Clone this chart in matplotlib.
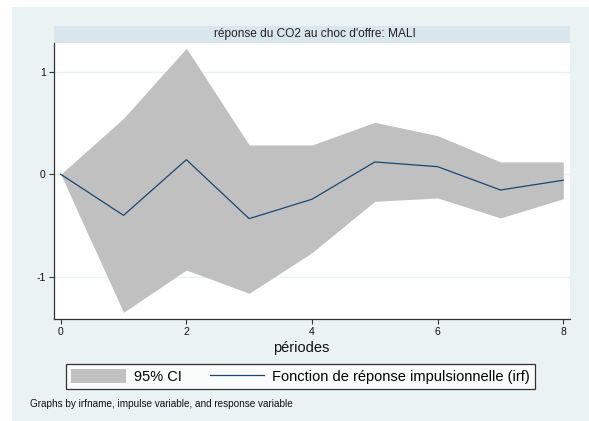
import matplotlib
matplotlib.use("Agg")
import matplotlib.pyplot as plt
from matplotlib.patches import Rectangle, Patch
from matplotlib.lines import Line2D

plt.rcParams['font.family'] = ['Liberation Sans', 'DejaVu Sans']
plt.rcParams['axes.unicode_minus'] = False

periods = [0, 1, 2, 3, 4, 5, 6, 7, 8]
irf = [0.0, -0.40, 0.142, -0.432, -0.243, 0.12, 0.074, -0.153, -0.058]
ci_upper = [0.0, 0.545, 1.227, 0.285, 0.285, 0.506, 0.376, 0.12, 0.12]
ci_lower = [0.0, -1.344, -0.932, -1.159, -0.763, -0.263, -0.231, -0.425, -0.238]
xticks = [0, 2, 4, 6, 8]
yticks = [-1, 0, 1]
title = "réponse du CO2 au choc d'offre: MALI"
xlabel = "périodes"
note = "Graphs by irfname, impulse variable, and response variable"

W, H = 589, 421
fig = plt.figure(figsize=(W / 100, H / 100), dpi=100, facecolor='white')

def fx(px):
    return px / W

def fy(py):
    return 1 - py / H

# graph region background
fig.patches.append(Rectangle((fx(12), 0), 1 - fx(12), fy(7), transform=fig.transFigure,
                             facecolor='#EAF2F3', edgecolor='none', zorder=-2))
# title band
fig.patches.append(Rectangle((fx(54), fy(43)), fx(570) - fx(54), fy(26) - fy(43),
                             transform=fig.transFigure, facecolor='#D9E6EB',
                             edgecolor='none', zorder=-1))
fig.text(fx(314.5), fy(34.5), title, ha='center', va='center', fontsize=8.6, color='#222222')

ax = fig.add_axes([fx(54), fy(319), fx(570) - fx(54), fy(43) - fy(319)])
ax.set_zorder(1)
ax.set_facecolor('white')
ax.fill_between(periods, ci_lower, ci_upper, color='#C0C0C0', linewidth=0, zorder=2)
ax.plot(periods, irf, color='#1A476F', linewidth=0.9, zorder=3)
for yv in yticks:
    ax.axhline(yv, color='#EAF2F3', linewidth=1.0, zorder=1)

ax.set_xlim(-0.107, 8.107)
ax.set_ylim(-1.409, 1.278)
ax.set_xticks(xticks)
ax.set_yticks(yticks)
ax.tick_params(axis='both', direction='out', length=3.5, width=0.8, color='#333333',
               labelsize=7.5, labelcolor='#111111', pad=2.5)
for s in ['top', 'right']:
    ax.spines[s].set_visible(False)
for s in ['left', 'bottom']:
    ax.spines[s].set_color('#333333')
    ax.spines[s].set_linewidth(0.9)

fig.text(fx(301.3), fy(348), xlabel, ha='center', va='center', fontsize=10.5, color='#111111')

handles = [Patch(facecolor='#C0C0C0', edgecolor='none'),
           Line2D([0], [0], color='#1A476F', linewidth=0.9)]
labels = ["95% CI", "Fonction de réponse impulsionnelle (irf)"]
leg = fig.legend(handles, labels, loc='center', bbox_to_anchor=(fx(300.7), fy(376.8)),
                 ncol=2, fontsize=10.5, frameon=True, fancybox=False,
                 handlelength=3.75, handleheight=1.1, handletextpad=0.55,
                 columnspacing=1.9, borderpad=0.35, borderaxespad=0)
leg.set_zorder(5)
frame = leg.get_frame()
frame.set_edgecolor('black')
frame.set_linewidth(0.9)
frame.set_facecolor('white')

fig.text(fx(30), fy(404), note, ha='left', va='center', fontsize=7.2, color='#111111')

fig.savefig('out.png', dpi=100, facecolor='white')
